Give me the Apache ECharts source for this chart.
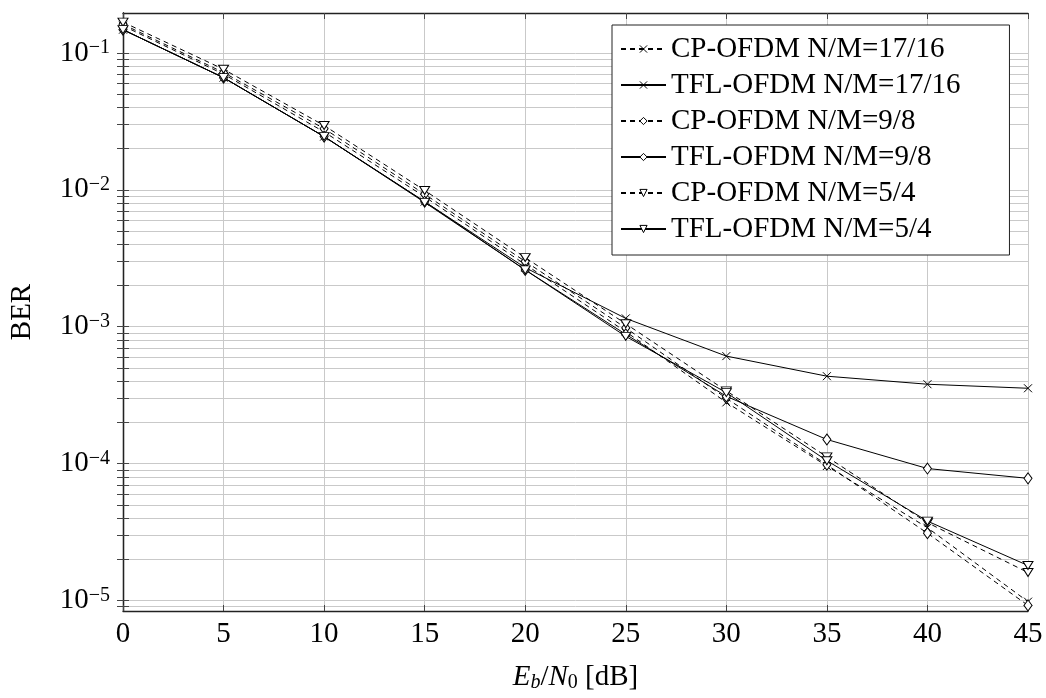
<!DOCTYPE html>
<html>
<head>
<meta charset="utf-8">
<script src="https://cdn.jsdelivr.net/npm/echarts@6/dist/echarts.min.js"></script>
<style>
  html, body { margin: 0; padding: 0; background: #fff; }
  #chart { width: 1046px; height: 698px; }
</style>
</head>
<body>
<div id="chart"></div>
<script>
// Eb/N0 in dB
const ebn0 = [0, 5, 10, 15, 20, 25, 30, 35, 40, 45];

// BER curves
const cp1716  = [0.158, 0.070, 0.0265, 0.0089, 0.00285, 0.00092, 0.00028, 9.6e-5, 3.4e-5, 9.8e-6];
const tfl1716 = [0.148, 0.066, 0.0245, 0.0082, 0.0027, 0.00115, 0.00061, 0.000435, 0.00038, 0.000355];
const cp98    = [0.162, 0.072, 0.028, 0.0093, 0.0030, 0.00098, 0.00030, 9.8e-5, 3.1e-5, 9.2e-6];
const tfl98   = [0.148, 0.066, 0.0245, 0.0082, 0.0026, 0.00088, 0.00031, 0.00015, 9.2e-5, 7.8e-5];
const cp54    = [0.168, 0.076, 0.0295, 0.0099, 0.0032, 0.00105, 0.00034, 0.000112, 3.7e-5, 1.6e-5];
const tfl54   = [0.148, 0.066, 0.0245, 0.0081, 0.0026, 0.00085, 0.00033, 0.000105, 3.8e-5, 1.8e-5];

const seriesNames = [
  'CP-OFDM N/M=17/16', 'TFL-OFDM N/M=17/16',
  'CP-OFDM N/M=9/8', 'TFL-OFDM N/M=9/8',
  'CP-OFDM N/M=5/4', 'TFL-OFDM N/M=5/4'
];

const xTicks = [0, 5, 10, 15, 20, 25, 30, 35, 40, 45];
const yDecades = [-5, -4, -3, -2, -1];   // 10^-5 .. 10^-1

const FONT = 'Liberation Serif';
const yMin = -5.077, yMax = -0.708;      // log10 of axis ends

// log grid: every k*10^n inside the range
let yGrid = [];
for (let n = -6; n <= 0; n++) {
  for (let k = 1; k <= 9; k++) {
    let v = n + Math.log10(k);
    if (v >= yMin && v <= yMax) yGrid.push(v);
  }
}

const crossSym = 'path://M0 0L10 10M10 0L0 10';
const diamondSym = 'diamond';
const triSym = 'path://M0 0L10 0L5 8.5Z';

function mk(name, arr, dashed, sym, size) {
  return {
    name: name,
    type: 'line',
    data: ebn0.map((x, i) => [x, Math.log10(arr[i])]),
    symbol: sym,
    symbolSize: size,
    showSymbol: true,
    lineStyle: { color: '#000', width: 1, type: dashed ? [5, 4] : 'solid' },
    itemStyle: { color: '#fff', borderColor: '#000', borderWidth: 1 },
    emphasis: { disabled: true },
    animation: false
  };
}

const chart = echarts.init(document.getElementById('chart'));
chart.setOption({
  backgroundColor: '#fff',
  animation: false,
  grid: { left: 121, right: 18, top: 13, bottom: 81 },
  legend: {
    orient: 'vertical',
    left: 612,
    top: 25,
    itemWidth: 45,
    itemHeight: 9,
    itemGap: 6,
    padding: [9, 49, 11, 8],
    backgroundColor: '#fff',
    borderColor: '#222',
    borderWidth: 1,
    borderRadius: 0,
    itemStyle: { color: '#fff', borderColor: '#000', borderWidth: 1 },
    textStyle: { fontFamily: FONT, fontSize: 29, color: '#000', lineHeight: 30 },
    data: seriesNames
  },
  xAxis: [{
    type: 'value',
    min: 0, max: 45, interval: 5,
    name: '{it|E}{subi|b}{n|/}{it|N}{sub|0}{n| [dB]}',
    nameLocation: 'middle',
    nameGap: 50,
    nameTextStyle: {
      fontFamily: FONT, fontSize: 29, color: '#000',
      rich: {
        it: { fontFamily: FONT, fontSize: 29, fontStyle: 'italic', color: '#000', lineHeight: 32 },
        n: { fontFamily: FONT, fontSize: 29, color: '#000', lineHeight: 32 },
        subi: { fontFamily: FONT, fontSize: 20, fontStyle: 'italic', color: '#000', verticalAlign: 'bottom', lineHeight: 20 },
        sub: { fontFamily: FONT, fontSize: 20, color: '#000', verticalAlign: 'bottom', lineHeight: 20 }
      }
    },
    axisLine: { show: true, lineStyle: { color: '#222', width: 1.3 } },
    axisTick: { show: true, inside: true, length: 6, lineStyle: { color: '#444' } },
    axisLabel: { fontFamily: FONT, fontSize: 29, color: '#000', margin: 9 },
    splitLine: { show: true, lineStyle: { color: '#c9c9c9', width: 1 } }
  }, {
    type: 'value',
    position: 'top',
    min: 0, max: 45, interval: 5,
    axisLine: { show: true, lineStyle: { color: '#222', width: 1.3 } },
    axisTick: { show: true, inside: true, length: 6, lineStyle: { color: '#444' } },
    axisLabel: { show: false },
    splitLine: { show: false }
  }],
  yAxis: [{
    type: 'value',
    min: yMin, max: yMax,
    name: 'BER',
    nameLocation: 'middle',
    nameGap: 86,
    nameRotate: 90,
    nameTextStyle: { fontFamily: FONT, fontSize: 29, color: '#000' },
    axisLine: { show: true, lineStyle: { color: '#222', width: 1.3 } },
    axisTick: { show: true, inside: true, length: 6, customValues: yGrid, lineStyle: { color: '#444' } },
    axisLabel: {
      customValues: yDecades,
      margin: 13,
      fontFamily: FONT, fontSize: 29, color: '#000',
      formatter: v => '{b|10}{s|\u2212' + Math.round(-v) + '}',
      rich: {
        b: { fontFamily: FONT, fontSize: 29, color: '#000', lineHeight: 30 },
        s: { fontFamily: FONT, fontSize: 20, color: '#000', verticalAlign: 'top', lineHeight: 20 }
      }
    },
    splitLine: { show: true, lineStyle: { color: '#c9c9c9', width: 1 } }
  }, {
    type: 'value',
    position: 'right',
    min: yMin, max: yMax,
    axisLine: { show: true, lineStyle: { color: '#222', width: 1.3 } },
    axisTick: { show: true, inside: true, length: 6, customValues: yGrid, lineStyle: { color: '#444' } },
    axisLabel: { show: false },
    splitLine: { show: false }
  }],
  series: [
    mk(seriesNames[0], cp1716, true, crossSym, 8),
    mk(seriesNames[1], tfl1716, false, crossSym, 8),
    mk(seriesNames[2], cp98, true, diamondSym, [8, 11]),
    mk(seriesNames[3], tfl98, false, diamondSym, [8, 11]),
    mk(seriesNames[4], cp54, true, triSym, [10, 8]),
    mk(seriesNames[5], tfl54, false, triSym, [10, 8])
  ]
});
</script>
</body>
</html>
